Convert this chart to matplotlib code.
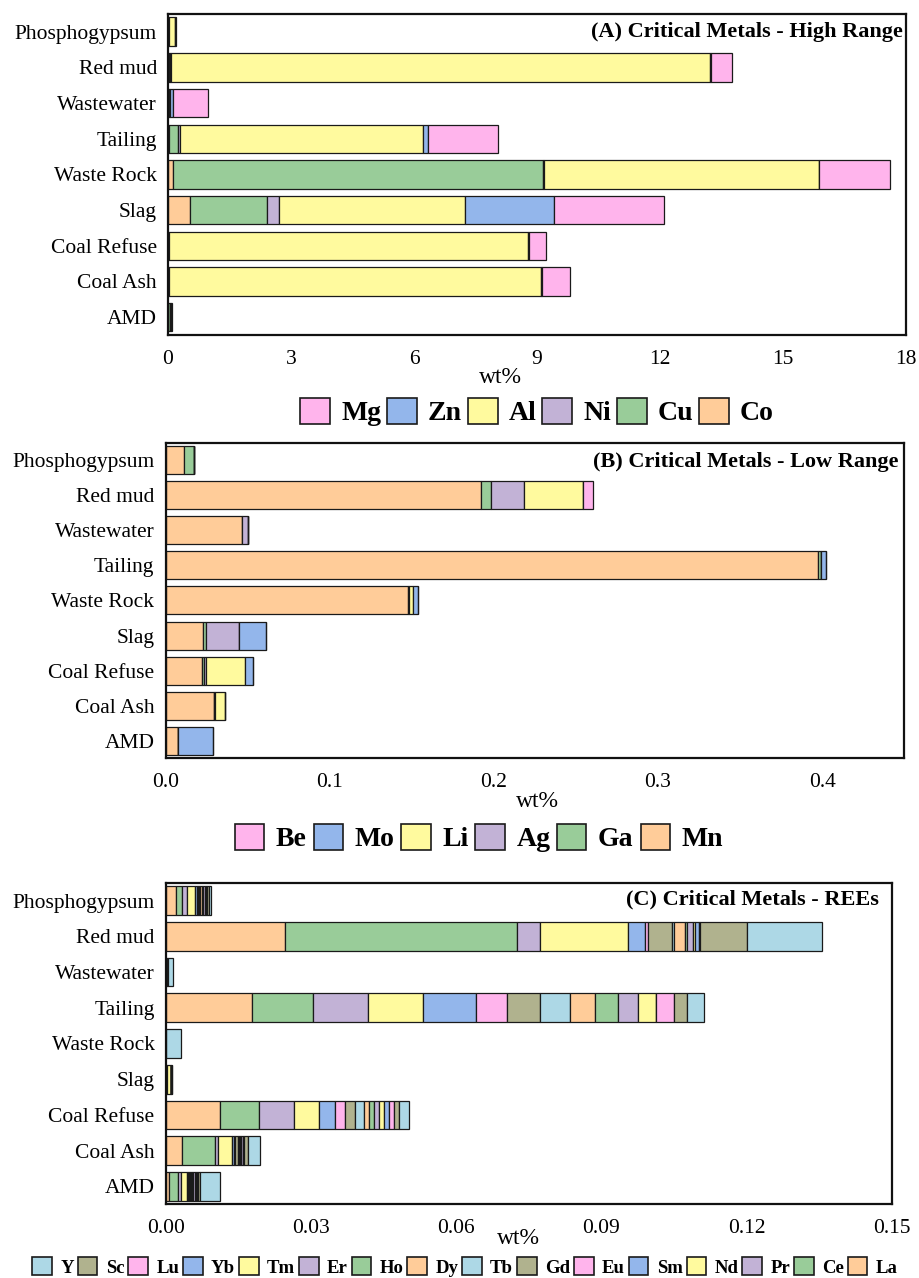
import matplotlib
matplotlib.use("Agg")
import matplotlib.pyplot as plt
from matplotlib.patches import Patch
import numpy as np

plt.rcParams['font.family'] = ['Liberation Serif', 'DejaVu Serif']

# ---------------- data ----------------
categories = ["Phosphogypsum", "Red mud", "Wastewater", "Tailing", "Waste Rock",
              "Slag", "Coal Refuse", "Coal Ash", "AMD"]

# Panel A (wt%)
elements_a = ["Co", "Cu", "Ni", "Al", "Zn", "Mg"]
Co = [0.00, 0.02, 0.01, 0.02, 0.13, 0.53, 0.01, 0.01, 0.01]
Cu = [0.02, 0.03, 0.01, 0.22, 9.02, 1.88, 0.01, 0.01, 0.03]
Ni = [0.00, 0.02, 0.01, 0.06, 0.02, 0.29, 0.01, 0.01, 0.01]
Al = [0.14, 13.15, 0.02, 5.92, 6.71, 4.55, 8.76, 9.08, 0.02]
Zn = [0.01, 0.03, 0.07, 0.12, 0.01, 2.17, 0.01, 0.01, 0.01]
Mg = [0.02, 0.50, 0.86, 1.71, 1.73, 2.68, 0.43, 0.68, 0.02]
values_a = [Co, Cu, Ni, Al, Zn, Mg]
ticks_a = [0, 3, 6, 9, 12, 15, 18]
tick_labels_a = ["0", "3", "6", "9", "12", "15", "18"]

# Panel B (wt%)
elements_b = ["Mn", "Ga", "Ag", "Li", "Mo", "Be"]
Mn = [0.0111, 0.1924, 0.0464, 0.3973, 0.1478, 0.0226, 0.0224, 0.0295, 0.0078]
Ga = [0.0063, 0.0061, 0.0003, 0.0020, 0.0003, 0.0022, 0.0012, 0.0002, 0.0000]
Ag = [0.0000, 0.0197, 0.0037, 0.0000, 0.0000, 0.0200, 0.0010, 0.0002, 0.0000]
Li = [0.0000, 0.0358, 0.0000, 0.0002, 0.0028, 0.0000, 0.0236, 0.0061, 0.0000]
Mo = [0.0000, 0.0004, 0.0000, 0.0030, 0.0030, 0.0163, 0.0051, 0.0000, 0.0209]
Be = [0.0000, 0.0057, 0.0000, 0.0000, 0.0000, 0.0000, 0.0000, 0.0000, 0.0000]
values_b = [Mn, Ga, Ag, Li, Mo, Be]
ticks_b = [0.0, 0.1, 0.2, 0.3, 0.4]
tick_labels_b = ["0.0", "0.1", "0.2", "0.3", "0.4"]

# Panel C (wt%)
elements_c = ["La", "Ce", "Pr", "Nd", "Sm", "Eu", "Gd", "Tb",
              "Dy", "Ho", "Er", "Tm", "Yb", "Lu", "Sc", "Y"]
La = [0.0021, 0.0246, 0.0001, 0.0178, 0.0000, 0.0001, 0.0112, 0.0034, 0.0007]
Ce = [0.0012, 0.0479, 0.0001, 0.0127, 0.0000, 0.0001, 0.0081, 0.0067, 0.0019]
Pr = [0.0010, 0.0048, 0.0000, 0.0112, 0.0000, 0.0001, 0.0072, 0.0007, 0.0005]
Nd = [0.0017, 0.0182, 0.0001, 0.0115, 0.0000, 0.0007, 0.0052, 0.0030, 0.0012]
Sm = [0.0004, 0.0035, 0.0000, 0.0109, 0.0000, 0.0001, 0.0033, 0.0004, 0.0003]
Eu = [0.0002, 0.0006, 0.0000, 0.0065, 0.0000, 0.0000, 0.0021, 0.0002, 0.0002]
Gd = [0.0003, 0.0050, 0.0000, 0.0068, 0.0000, 0.0000, 0.0021, 0.0005, 0.0003]
Tb = [0.0002, 0.0005, 0.0000, 0.0062, 0.0000, 0.0000, 0.0017, 0.0002, 0.0002]
Dy = [0.0004, 0.0021, 0.0000, 0.0050, 0.0000, 0.0000, 0.0012, 0.0003, 0.0002]
Ho = [0.0002, 0.0005, 0.0000, 0.0048, 0.0000, 0.0000, 0.0010, 0.0002, 0.0002]
Er = [0.0004, 0.0012, 0.0000, 0.0042, 0.0000, 0.0000, 0.0010, 0.0003, 0.0003]
Tm = [0.0002, 0.0004, 0.0000, 0.0037, 0.0000, 0.0000, 0.0010, 0.0001, 0.0002]
Yb = [0.0002, 0.0008, 0.0000, 0.0001, 0.0000, 0.0000, 0.0010, 0.0001, 0.0002]
Lu = [0.0001, 0.0002, 0.0000, 0.0037, 0.0000, 0.0000, 0.0010, 0.0001, 0.0002]
Sc = [0.0003, 0.0099, 0.0001, 0.0026, 0.0001, 0.0001, 0.0010, 0.0009, 0.0005]
Y = [0.0004, 0.0154, 0.0012, 0.0036, 0.0030, 0.0001, 0.0022, 0.0024, 0.0042]
values_c = [La, Ce, Pr, Nd, Sm, Eu, Gd, Tb, Dy, Ho, Er, Tm, Yb, Lu, Sc, Y]
ticks_c = [0.00, 0.03, 0.06, 0.09, 0.12, 0.15]
tick_labels_c = ["0.00", "0.03", "0.06", "0.09", "0.12", "0.15"]

# ---------------- style ----------------
ORANGE = "#FFCC99"
GREEN = "#99CC99"
PURPLE = "#C2B2D6"
YELLOW = "#FFFA9E"
BLUE = "#93B6EB"
PINK = "#FFB4EC"
KHAKI = "#B0B28E"
LBLUE = "#ADD8E6"
colors_ab = [ORANGE, GREEN, PURPLE, YELLOW, BLUE, PINK]
colors_c = [ORANGE, GREEN, PURPLE, YELLOW, BLUE, PINK, KHAKI, LBLUE,
            ORANGE, GREEN, PURPLE, YELLOW, BLUE, PINK, KHAKI, LBLUE]

EDGE = "#1a1a1a"
TICK_FS = 15.5

fig = plt.figure(figsize=(9.19, 12.78), dpi=100)

def draw_panel(rect, elements, values, colors, xlim, ticks, tlabels, title,
               title_xy, xlabel_xy):
    ax = fig.add_axes(rect)
    y = np.arange(len(categories))
    left = np.zeros(len(categories))
    for el, vals, col in zip(elements, values, colors):
        v = np.array(vals, dtype=float)
        ax.barh(y, v, left=left, height=0.8, color=col, edgecolor=EDGE,
                linewidth=0.9, label=el)
        left = left + v
    ax.set_yticks(y)
    ax.set_yticklabels(categories, fontsize=TICK_FS)
    ax.set_ylim(len(categories) - 0.5, -0.5)
    ax.set_xlim(*xlim)
    ax.set_xticks(ticks)
    ax.set_xticklabels(tlabels, fontsize=TICK_FS)
    ax.tick_params(axis='both', length=0)
    ax.tick_params(axis='x', pad=10.5)
    ax.tick_params(axis='y', pad=8)
    for s in ax.spines.values():
        s.set_linewidth(1.6)
        s.set_color("#111111")
    ax.text(title_xy[0], title_xy[1], title, transform=ax.transAxes,
            ha='right', va='center', fontsize=16, fontweight='bold')
    ax.set_xlabel("wt%", fontsize=17)
    ax.xaxis.label.set_va('center')
    ax.xaxis.set_label_coords(*xlabel_xy)
    return ax

axA = draw_panel([0.1828, 0.7379, 0.8030, 0.2512], elements_a, values_a, colors_ab,
                 (0, 18), ticks_a, tick_labels_a,
                 "(A) Critical Metals - High Range", (0.996, 0.945), (0.451, -0.131))
axB = draw_panel([0.1801, 0.4067, 0.8039, 0.2469], elements_b, values_b, colors_ab,
                 (0, 0.45), ticks_b, tick_labels_b,
                 "(B) Critical Metals - Low Range", (0.992, 0.94), (0.503, -0.137))
axC = draw_panel([0.1803, 0.0577, 0.7900, 0.2516], elements_c, values_c, colors_c,
                 (0, 0.15), ticks_c, tick_labels_c,
                 "(C) Critical Metals - REEs", (0.982, 0.948), (0.486, -0.105))

def add_legend(elements, colors, center, fs, hl, htp, cs):
    handles = [Patch(facecolor=c, edgecolor=EDGE, linewidth=1.2, label=e)
               for e, c in zip(elements, colors)][::-1]
    fig.legend(handles=handles, loc='center', bbox_to_anchor=center,
               ncol=len(handles), frameon=False,
               prop={'family': ['Liberation Serif'], 'weight': 'bold', 'size': fs},
               handlelength=hl, handleheight=hl, handletextpad=htp,
               columnspacing=cs, borderpad=0.0, borderaxespad=0.0)

add_legend(elements_a, colors_ab, (537 / 919, 1 - 412 / 1278), 20, 1.08, 0.4, 0.2)
add_legend(elements_b, colors_ab, (479 / 919, 1 - 838 / 1278), 20, 1.05, 0.42, 0.25)
add_legend(elements_c, colors_c, (465 / 919, 1 - 1267 / 1278), 13.5, 1.05, 0.45, 0.2)

fig.savefig("out.png", dpi=100)
